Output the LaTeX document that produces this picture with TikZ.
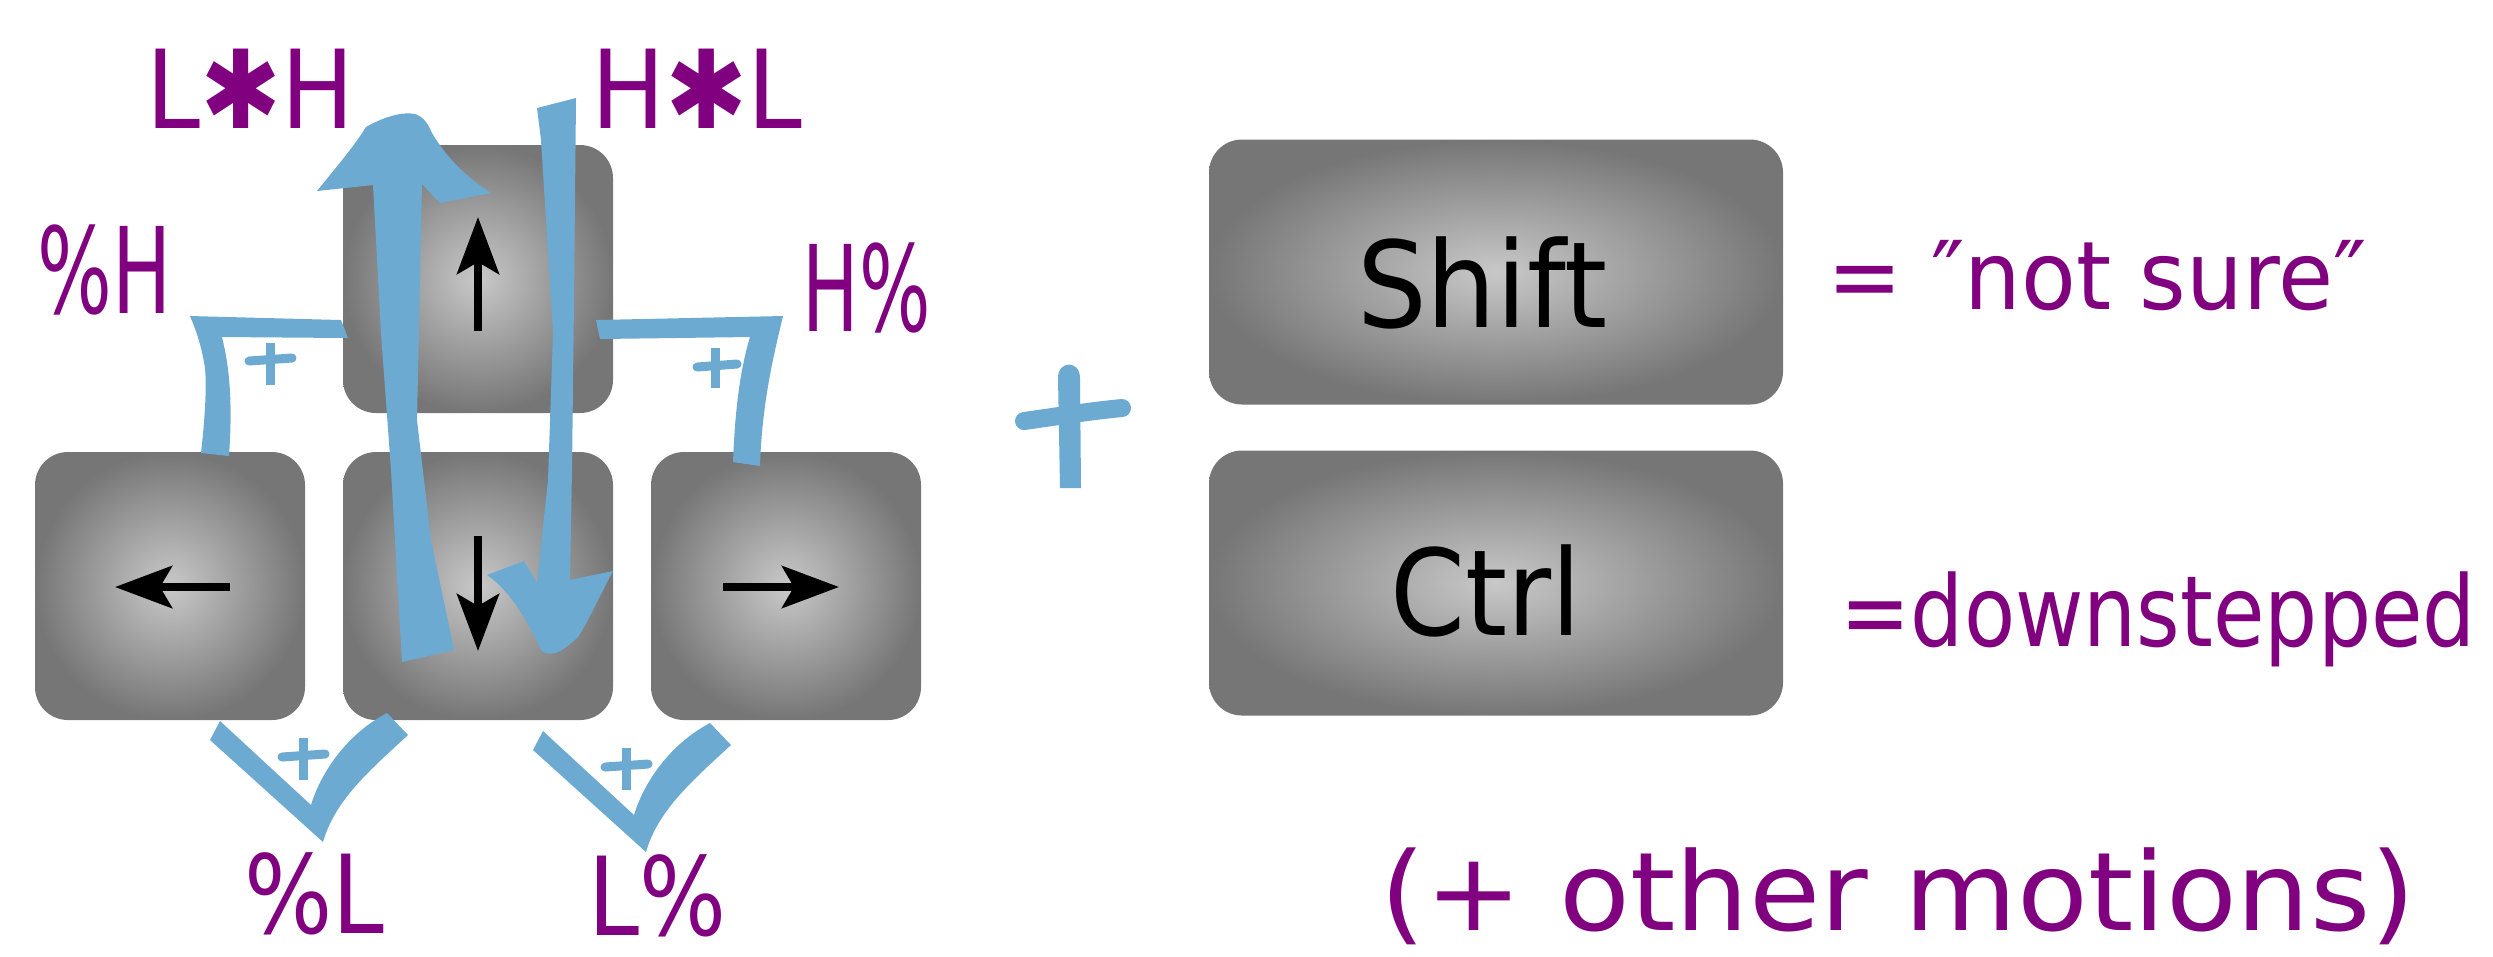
\documentclass[tikz,border=0pt]{standalone}
\usepackage{fontspec}
\usepackage{graphicx}
\usetikzlibrary{arrows.meta,calc}
\newfontfamily\handfont{DejaVu Sans}
\newfontfamily\capfont{DejaVu Sans}
\definecolor{hblue}{RGB}{108,170,210}
\definecolor{hpurple}{RGB}{128,0,128}
\definecolor{keyin}{RGB}{200,200,200}
\definecolor{keyout}{RGB}{118,118,118}
\newcommand\fitw[2]{\resizebox{#1}{\height}{#2}}
\begin{document}
\begin{tikzpicture}[x=0.1mm,y=-0.1mm,
  key/.style={rounded corners=3.3mm, shade, shading=radial, inner color=keyin, outer color=keyout,
    minimum width=27mm, minimum height=26.8mm, inner sep=0pt, draw=none},
  wide key/.style={key, minimum width=57.4mm, minimum height=26.5mm},
  keyarrow/.style={line width=0.8mm, -{Stealth[length=5.7mm,width=4.2mm,inset=1.2mm]}},
  blueshape/.style={fill=hblue, draw=none},
  bluestroke/.style={draw=hblue, line width=0.9mm},
  hand/.style={font=\handfont\fontsize{#1}{#1}\selectfont, text=hpurple, inner sep=0pt, anchor=base west},
  keylabel/.style={font=\capfont\fontsize{34pt}{34pt}\selectfont, text=black, inner sep=0pt, anchor=base},
  vmark/.pic={
    \fill[blueshape] (220,721) -- (311,805)
      .. controls (320,775) and (345,735) .. (387,713)
      -- (408,735)
      .. controls (370,770) and (335,800) .. (323,842)
      -- (210,740) -- cycle;
    \draw[bluestroke] (303,738) -- (303,780);
    \draw[bluestroke, line cap=round] (282,757) -- (325,754);
  }
]
\useasboundingbox (0,0) rectangle (2493,956);

% keys
\node[key] (up) at (478,279) {};
\node[key] (left) at (170,586) {};
\node[key] (down) at (478,586) {};
\node[key] (right) at (786,586) {};
\node[wide key] (shift) at (1496,272) {};
\node[wide key] (ctrl) at (1496,583) {};

\node[keylabel] (shiftlbl) at (1482,327) {\fitw{25mm}{Shift}};
\node[keylabel] (ctrllbl) at (1486,635) {\fitw{19.1mm}{Ctrl}};

% key arrows
\draw[keyarrow] ($(up.center)+(0,52)$) -- ($(up.center)+(0,-62)$);
\draw[keyarrow] ($(down.center)+(0,-50)$) -- ($(down.center)+(0,65)$);
\draw[keyarrow] ($(left.center)+(60,1)$) -- ($(left.center)+(-55,1)$);
\draw[keyarrow] ($(right.center)+(-63,1)$) -- ($(right.center)+(53,1)$);

% L*H arrow (up)
\fill[blueshape] (373,185) -- (317,191)
  .. controls (338,165) and (355,145) .. (366,127)
  .. controls (380,119) and (400,111) .. (415,114)
  .. controls (424,117) and (428,124) .. (432,133)
  .. controls (448,160) and (468,178) .. (491,193)
  -- (440,203) -- (422,184)
  -- (417,420) -- (431,540) -- (454,650) -- (402,662)
  -- (391,470) -- (381,333) -- cycle;

% H*L arrow (down)
\fill[blueshape] (537,108) -- (576,98) -- (574,300) -- (572,470) -- (570,580) -- (613,571)
  .. controls (600,595) and (588,622) .. (578,637)
  .. controls (566,648) and (552,660) .. (541,650)
  .. controls (530,625) and (510,590) .. (487,575)
  -- (524,561) -- (537,583) -- (548,480) -- (553,333) -- (541,140) -- cycle;

% %H bracket
\fill[blueshape] (190,316) -- (341,320) -- (348,338) -- (222,337)
  .. controls (229,365) and (233,400) .. (229,456)
  -- (201,453)
  .. controls (206,410) and (207,375) .. (204,362)
  .. controls (201,345) and (196,330) .. (190,316) -- cycle;
\draw[bluestroke] (270,343) -- (270,385);
\draw[bluestroke, line cap=round] (249,361) -- (292,358);

% H% bracket
\fill[blueshape] (596,320) -- (783,316)
  .. controls (775,350) and (762,400) .. (760,466)
  -- (733,462)
  .. controls (735,410) and (740,370) .. (750,337)
  -- (600,339) -- cycle;
\draw[bluestroke] (715,348) -- (715,388);
\draw[bluestroke, line cap=round] (697,367) -- (737,364);

% V marks
\pic at (0,0) {vmark};
\pic at (323,10) {vmark};

% big plus
\fill[blueshape] (1060,488) -- (1058,378) .. controls (1058,360) and (1080,360) .. (1080,378) -- (1081,488) -- cycle;
\draw[hblue, line width=1.8mm, line cap=round] (1024,421) .. controls (1060,416) and (1090,411) .. (1122,408);

% labels
\node[hand=31pt] (lh) at (146,128) {\fitw{20.8mm}{L✱H}};
\node[hand=31pt] (hl) at (591,128) {\fitw{21.1mm}{H✱L}};
\node[hand=34pt] (ph) at (37,313) {\fitw{13.4mm}{\%H}};
\node[hand=34pt] (hp) at (802,331) {\fitw{12.8mm}{H\%}};
\node[hand=31pt] (pl) at (244,933) {\fitw{14mm}{\%L}};
\node[hand=31pt] (lp) at (588,935) {\fitw{13.8mm}{L\%}};
\node[hand=27pt] (notsure) at (1827,309) {\fitw{53.9mm}{= ″not sure″}};
\node[hand=28pt] (dstep) at (1840,646) {\fitw{63.5mm}{=downstepped}};
\node[hand=31pt] (other) at (1380,930) {\fitw{103.5mm}{(+ other motions)}};
\end{tikzpicture}
\end{document}
